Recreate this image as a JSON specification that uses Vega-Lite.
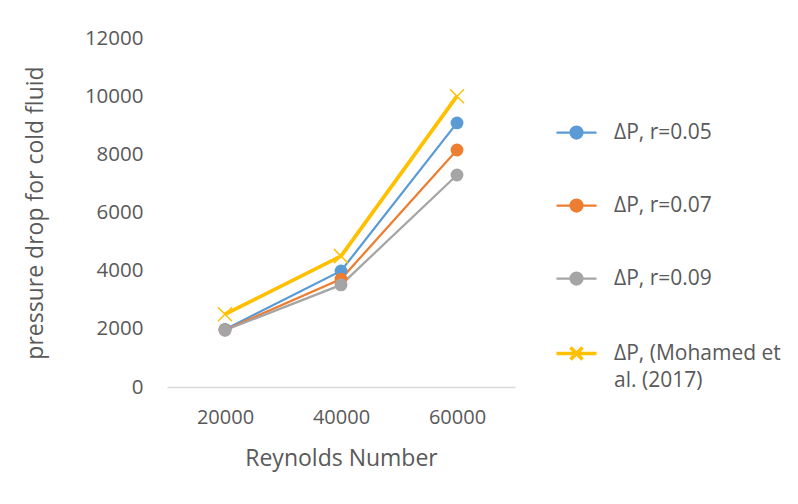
{
  "$schema": "https://vega.github.io/schema/vega-lite/v6.json",
  "width": 348,
  "height": 349,
  "autosize": {"type": "none"},
  "padding": {"left": 167, "top": 38, "right": 283, "bottom": 117},
  "background": "white",
  "config": {
    "view": {"stroke": null},
    "font": "Open Sans",
    "axis": {"labelColor": "#595959", "titleColor": "#595959", "labelFont": "Open Sans", "titleFont": "Open Sans", "titleFontWeight": "normal", "grid": false, "ticks": false}
  },
  "data": {
    "values": [
      {"re": "20000", "series": "ΔP, r=0.05", "dp": 1980},
      {"re": "40000", "series": "ΔP, r=0.05", "dp": 3990},
      {"re": "60000", "series": "ΔP, r=0.05", "dp": 9080},
      {"re": "20000", "series": "ΔP, r=0.07", "dp": 1960},
      {"re": "40000", "series": "ΔP, r=0.07", "dp": 3710},
      {"re": "60000", "series": "ΔP, r=0.07", "dp": 8150},
      {"re": "20000", "series": "ΔP, r=0.09", "dp": 1950},
      {"re": "40000", "series": "ΔP, r=0.09", "dp": 3510},
      {"re": "60000", "series": "ΔP, r=0.09", "dp": 7290},
      {"re": "20000", "series": "ΔP, (Mohamed et al. (2017)", "dp": 2500},
      {"re": "40000", "series": "ΔP, (Mohamed et al. (2017)", "dp": 4500},
      {"re": "60000", "series": "ΔP, (Mohamed et al. (2017)", "dp": 10000}
    ]
  },
  "encoding": {
    "x": {
      "field": "re", "type": "ordinal", "sort": null,
      "scale": {"type": "point", "padding": 0.5},
      "axis": {"title": "Reynolds Number", "labelAngle": 0, "labelFontSize": 20, "labelPadding": 20, "domainColor": "#D9D9D9", "domainWidth": 1.3, "titleFontSize": 23, "titleX": 174, "titleY": 71, "titleBaseline": "middle", "titleAlign": "center"}
    },
    "y": {
      "field": "dp", "type": "quantitative",
      "scale": {"domain": [0, 12000]},
      "axis": {"title": "pressure drop for cold fluid", "values": [0, 2000, 4000, 6000, 8000, 10000, 12000], "format": "d", "domain": false, "labelFontSize": 20.5, "labelPadding": 24, "titleFontSize": 23, "titleAngle": -90, "titleX": -132, "titleY": 174.5, "titleAlign": "center", "titleBaseline": "middle"}
    }
  },
  "layer": [
    {
      "mark": {"type": "line"},
      "encoding": {
        "color": {
          "field": "series", "type": "nominal", "sort": null,
          "scale": {"domain": ["ΔP, r=0.05", "ΔP, r=0.07", "ΔP, r=0.09", "ΔP, (Mohamed et al. (2017)"], "range": ["#5B9BD5", "#ED7D31", "#A5A5A5", "#FFC000"]},
          "legend": {
            "title": null,
            "orient": "none",
            "legendX": 399,
            "legendY": 84,
            "symbolSize": 1600,
            "rowPadding": 51,
            "labelFontSize": 21,
            "labelColor": "#595959",
            "labelOffset": 27,
            "labelLimit": 300,
            "labelExpr": "datum.label == 'ΔP, (Mohamed et al. (2017)' ? ['ΔP, (Mohamed et', 'al. (2017)'] : datum.label",
            "encode": {
              "symbols": {
                "update": {
                  "shape": {"signal": "datum.value == 'ΔP, (Mohamed et al. (2017)' ? 'M-1,0L1,0M-0.3,-0.3L0.3,0.3M-0.3,0.3L0.3,-0.3' : 'M-1,0L-0.3,0M0.3,0L1,0M0.3,0A0.3,0.3,0,1,1,-0.3,0A0.3,0.3,0,1,1,0.3,0Z'"},
                  "fill": {"signal": "datum.value == 'ΔP, (Mohamed et al. (2017)' ? 'transparent' : scale('color', datum.value)"},
                  "stroke": {"signal": "scale('color', datum.value)"},
                  "strokeWidth": {"signal": "datum.value == 'ΔP, (Mohamed et al. (2017)' ? 3.5 : 2.25"},
                  "opacity": {"value": 1}
                }
              },
              "labels": {
                "update": {
                  "lineHeight": {"value": 27}
                }
              }
            }
          }
        },
        "strokeWidth": {
          "condition": {"test": "datum.series == 'ΔP, (Mohamed et al. (2017)'", "value": 3.75},
          "value": 2.25
        }
      }
    },
    {
      "transform": [{"filter": "datum.series != 'ΔP, (Mohamed et al. (2017)'"}],
      "mark": {"type": "point", "shape": "circle", "filled": true, "opacity": 1, "size": 165},
      "encoding": {
        "color": {"field": "series", "type": "nominal", "sort": null, "legend": null}
      }
    },
    {
      "transform": [{"filter": "datum.series == 'ΔP, (Mohamed et al. (2017)'"}],
      "mark": {"type": "point", "shape": "M-1,-1L1,1M-1,1L1,-1", "filled": false, "opacity": 1, "size": 196, "strokeWidth": 1.5, "color": "#FFC000"}
    }
  ]
}
